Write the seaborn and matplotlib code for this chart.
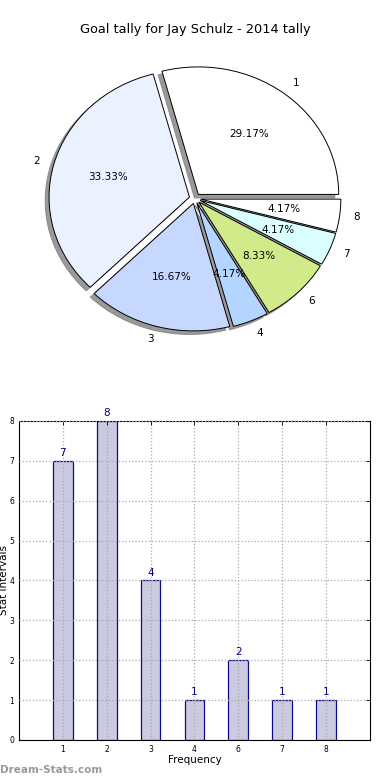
import matplotlib
matplotlib.use("Agg")
import matplotlib.pyplot as plt
import seaborn as sns
import pandas as pd

# Data
stat_labels = ["1", "2", "3", "4", "6", "7", "8"]
goal_counts = [7, 8, 4, 1, 2, 1, 1]
pie_colors = ["#ffffff", "#eaf1ff", "#c6d8ff", "#b4d5ff", "#d1eb8b", "#dbffff", "#ffffff"]
title = "Goal tally for Jay Schulz - 2014 tally"

sns.set_style("white")
plt.rcParams["font.family"] = ["DejaVu Sans"]
plt.rcParams["text.color"] = "black"
plt.rcParams["axes.labelcolor"] = "black"
plt.rcParams["xtick.color"] = "black"
plt.rcParams["ytick.color"] = "black"

df = pd.DataFrame({"interval": stat_labels, "count": goal_counts})

fig = plt.figure(figsize=(3.9, 7.8), dpi=100)

# Pie chart (top)
ax1 = fig.add_axes([0.0497, 0.5412, 0.9, 0.4087])
wedges, texts, autotexts = ax1.pie(
    df["count"], labels=df["interval"], colors=pie_colors,
    explode=[0.04] * len(df), autopct="%1.2f%%",
    shadow={"ox": -0.02, "oy": -0.02, "facecolor": "#808080",
            "edgecolor": "#808080", "alpha": 0.8},
    startangle=0, labeldistance=1.1, pctdistance=0.6,
    wedgeprops={"edgecolor": "black", "linewidth": 0.7},
    textprops={"fontsize": 7.5, "color": "black"},
)
ax1.set_aspect("auto")
ax1.set_xlim(-1.25, 1.25)
ax1.set_ylim(-1.25, 1.25)
ax1.axis("off")
fig.text(0.5, 1 - 30 / 780, title, ha="center", va="center", fontsize=9.3, color="black")

# Bar chart (bottom)
ax2 = fig.add_axes([0.0487, 0.0513, 0.9, 0.409])
sns.barplot(data=df, x="interval", y="count", order=stat_labels,
            color="#c8c8e0", edgecolor="#000080", linewidth=0.9,
            width=0.45, saturation=1, ax=ax2)
for p in ax2.patches:
    p.set_alpha(0.95)
ax2.set_xlim(-1, 7)
ax2.set_ylim(0, 8)
ax2.set_yticks(range(0, 9))
ax2.grid(True, linestyle=":", color="#aaaaaa", linewidth=0.9)
ax2.set_axisbelow(False)
for i, v in enumerate(goal_counts):
    ax2.text(i, v + 0.07, str(v), ha="center", va="bottom", color="#000080", fontsize=7.5)
ax2.tick_params(direction="in", top=True, right=True, labelsize=5.5, length=3, width=0.6)
for s in ax2.spines.values():
    s.set_color("black")
    s.set_linewidth(0.8)
ax2.set_xlabel("Frequency", fontsize=7.5, labelpad=1)
ax2.set_ylabel("Stat Intervals", fontsize=7.5, labelpad=1)
ax2.yaxis.set_label_coords(-0.0285, 0.5)

fig.text(0.0, 1 - 770 / 780, "Dream-Stats.com", ha="left", va="center",
         fontsize=7.5, color="#999999", fontweight="bold")

fig.savefig("out.png", dpi=100)
